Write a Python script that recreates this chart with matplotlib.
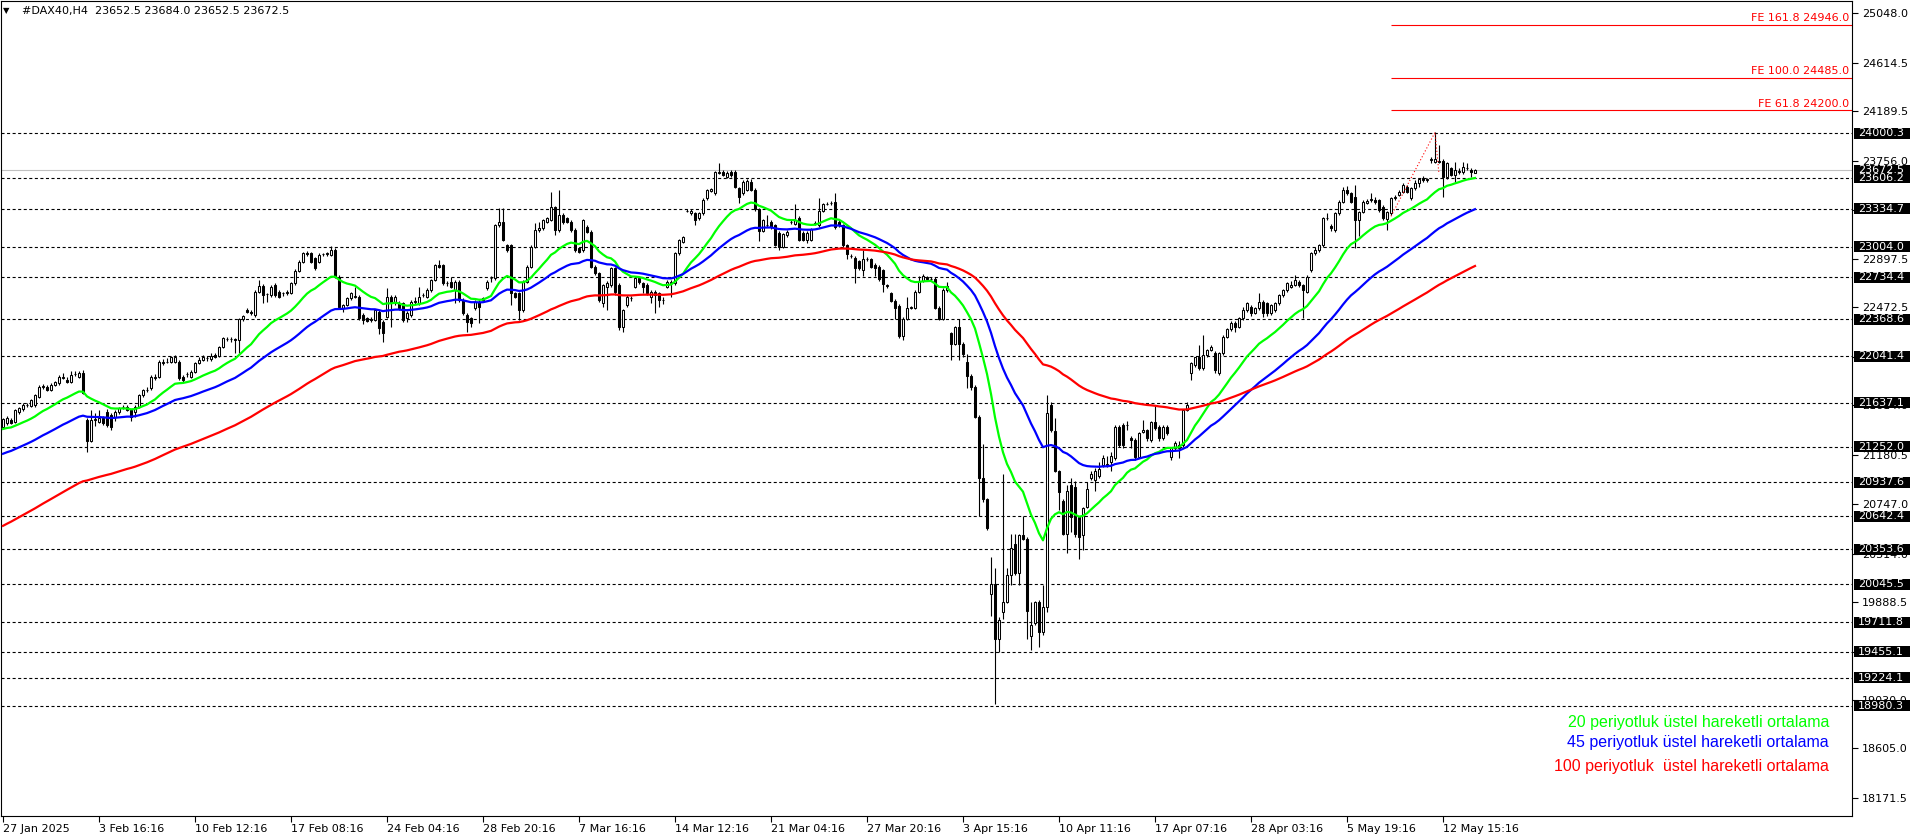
import numpy as np
import matplotlib.pyplot as plt
from matplotlib.patches import Rectangle

plt.rcParams['lines.scale_dashes'] = False

# H4 candles (price units)
opens = [
    21426, 21461, 21484, 21470, 21557, 21578, 21616, 21607, 21616, 21689,
    21777, 21777, 21747, 21791, 21806, 21850, 21835, 21820, 21885, 21864,
    21894, 21484, 21303, 21484, 21470, 21499, 21557, 21528, 21514, 21557,
    21601, 21601, 21572, 21557, 21601, 21704, 21747, 21762, 21850, 21864,
    21981, 21996, 21996, 21996, 21996, 21864, 21885, 21864, 21908, 21987,
    22010, 22025, 22016, 22054, 22046, 22127, 22192, 22195, 22192, 22186,
    22367, 22449, 22434, 22405, 22609, 22659, 22585, 22580, 22668, 22609,
    22595, 22595, 22595, 22683, 22794, 22872, 22945, 22945, 22902, 22872,
    22937, 22940, 22931, 22975, 22741, 22463, 22493, 22551, 22566, 22566,
    22405, 22376, 22367, 22361, 22434,
    22346, 22390, 22565, 22522, 22507, 22507, 22375, 22405, 22522, 22507,
    22580, 22565, 22624, 22711, 22843, 22843, 22682, 22697, 22624, 22697,
    22536, 22405, 22375, 22463, 22522, 22536, 22638, 22726, 22726, 23194,
    23223, 23018, 23018, 22595, 22595, 22448, 22697, 22828, 23004, 23150,
    23164, 23223, 23237, 23348, 23150, 23281, 23252, 23223, 23150, 22989,
    22975, 23179, 23135, 22828, 22770, 22507, 22653, 22668, 22814, 22668,
    22302, 22492, 22551, 22653, 22726, 22682, 22668, 22565, 22609, 22595,
    22536, 22653, 22682, 22682, 22945, 23047, 23316, 23296, 23296, 23252,
    23296, 23427, 23494, 23471, 23652, 23661, 23617, 23661, 23661, 23515,
    23471, 23500,
    23575, 23505, 23333, 23144, 23191, 23223, 23191, 23128, 23003, 23103,
    23223, 23207, 23254, 23128, 23065, 23065, 23207, 23191, 23317, 23380,
    23386, 23395, 23223, 23191, 23018, 22924, 22908, 22877, 22798, 22893,
    22893, 22846, 22830, 22798, 22663, 22594, 22531, 22484, 22217, 22374,
    22469, 22469, 22610, 22704, 22736, 22720, 22720, 22469, 22374, 22626,
    22249, 22154, 22296, 22154, 21997, 21872, 21777, 21510, 20976, 20788,
    19955, 20049, 19562, 19798, 19892, 20128, 20395, 20143, 20473, 20442,
    19594, 19704, 19892, 19625, 19845, 21620, 21385, 21039, 20772, 20489,
    20913, 20897, 20630, 20473, 20725, 20976, 20960, 20992, 21086, 21086,
    21118,
    21148, 21426, 21440, 21440, 21324, 21309, 21163, 21382, 21397, 21309,
    21470, 21426, 21324, 21426, 21163, 21236, 21236, 21265, 21572, 21893,
    21966, 22034, 21937, 22054, 22098, 22069, 21893, 22069, 22215, 22279,
    22337, 22302, 22375, 22448, 22478, 22425, 22463, 22522, 22506, 22419,
    22448, 22506, 22580, 22624, 22653, 22668, 22697, 22668, 22609, 22799,
    22945, 22974, 23018, 23252, 23185, 23150, 23296, 23398, 23500, 23471,
    23442, 23238, 23310, 23389, 23419, 23413, 23413, 23354, 23243, 23296,
    23427, 23457, 23486, 23530, 23427, 23515, 23559, 23603, 23588, 23763,
    23749, 23758, 23758, 23617, 23690, 23632, 23661, 23661, 23696, 23676,
    23652.5,
]
highs = [
    21505, 21520, 21500, 21585, 21600, 21630, 21635, 21672, 21715, 21795,
    21800, 21795, 21805, 21830, 21880, 21900, 21860, 21910, 21910, 21915,
    21920, 21500, 21570, 21549, 21572, 21520, 21580, 21545, 21570, 21600,
    21620, 21615, 21585, 21615, 21715, 21760, 21770, 21880, 21885, 22010,
    22020, 22030, 22045, 22050, 22010, 21880, 21905, 21920, 21990, 22040,
    22050, 22045, 22069, 22070, 22135, 22210, 22215, 22215, 22205, 22376,
    22405, 22465, 22450, 22620, 22712, 22675, 22600, 22665, 22683, 22620,
    22610, 22625, 22695, 22805, 22885, 22960, 22965, 22960, 22915, 22945,
    22950, 22955, 23010, 22990, 22755, 22500, 22560, 22605, 22653, 22580,
    22420, 22390, 22385, 22460, 22445,
    22360, 22638, 22580, 22580, 22525, 22520, 22440, 22535, 22565, 22653,
    22600, 22640, 22720, 22855, 22887, 22855, 22700, 22741, 22710, 22710,
    22550, 22420, 22390, 22540, 22535, 22565, 22710, 22745, 23200, 23340,
    23340, 23030, 23030, 22610, 22610, 22710, 22840, 23015, 23210, 23223,
    23250, 23265, 23486, 23360, 23500, 23300, 23265, 23237, 23165, 23000,
    23250, 23194, 23150, 22843, 22785, 22680, 22700, 22830, 22828, 22682,
    22460, 22580, 22570, 22741, 22741, 22697, 22682, 22620, 22624, 22610,
    22565, 22710, 22710, 22960, 23070, 23100, 23330, 23330, 23310, 23310,
    23427, 23510, 23520, 23670, 23740, 23680, 23665, 23675, 23675, 23530,
    23590, 23600,
    23600, 23520, 23345, 23250, 23285, 23240, 23205, 23140, 23125, 23150,
    23240, 23380, 23270, 23140, 23140, 23170, 23230, 23430, 23390, 23395,
    23400, 23470, 23235, 23205, 23030, 22940, 22920, 22890, 22971, 22910,
    22905, 22860, 22845, 22810, 22680, 22610, 22545, 22500, 22385, 22563,
    22485, 22620, 22751, 22765, 22750, 22735, 22735, 22480, 22640, 22690,
    22260, 22311, 22374, 22165, 22060, 21885, 21790, 21525, 21275, 20800,
    20285, 20191, 19760, 21007, 20191, 20489, 20489, 20489, 20646, 20460,
    19892, 19900, 19905, 20034, 21700, 21640, 21500, 21050, 20790, 20913,
    20976, 20950, 20645, 20720, 20945, 21039, 21060, 21118, 21180, 21165,
    21200,
    21440, 21440, 21460, 21480, 21340, 21325, 21380, 21484, 21410, 21480,
    21616, 21440, 21440, 21440, 21250, 21300, 21300, 21580, 21645, 21990,
    22040, 22142, 22229, 22110, 22140, 22085, 22080, 22230, 22290, 22350,
    22350, 22390, 22478, 22520, 22492, 22475, 22595, 22535, 22520, 22500,
    22520, 22590, 22630, 22690, 22700, 22755, 22710, 22680, 22755, 22960,
    23000, 23030, 23265, 23296, 23200, 23305, 23410, 23530, 23535, 23485,
    23544, 23320, 23410, 23420, 23477, 23440, 23425, 23370, 23320, 23440,
    23460, 23500, 23560, 23545, 23530, 23590, 23610, 23620, 23610, 23787,
    24006, 23895, 23770, 23745, 23705, 23749, 23690, 23749, 23734, 23690,
    23684,
]
lows = [
    21410, 21445, 21450, 21455, 21540, 21565, 21600, 21595, 21600, 21680,
    21760, 21735, 21735, 21780, 21795, 21840, 21810, 21810, 21870, 21850,
    21710, 21207, 21290, 21430, 21455, 21440, 21420, 21400, 21480, 21540,
    21585, 21560, 21480, 21515, 21590, 21690, 21730, 21750, 21835, 21850,
    21965, 21980, 21980, 21985, 21835, 21820, 21860, 21850, 21895, 21975,
    22000, 22005, 22005, 22030, 22035, 22115, 22175, 22170, 22069, 22069,
    22350, 22420, 22405, 22390, 22595, 22507, 22520, 22565, 22565, 22555,
    22575, 22580, 22585, 22670, 22780, 22860, 22925, 22860, 22800, 22860,
    22920, 22925, 22920, 22730, 22470, 22434, 22480, 22540, 22550, 22365,
    22326, 22340, 22345, 22350, 22240,
    22171, 22375, 22302, 22490, 22450, 22346, 22340, 22390, 22505, 22495,
    22560, 22550, 22610, 22700, 22820, 22670, 22660, 22640, 22507, 22520,
    22405, 22259, 22302, 22450, 22332, 22520, 22625, 22690, 22711, 23180,
    23050, 22960, 22492, 22550, 22361, 22435, 22685, 22815, 22990, 23135,
    23150, 23210, 23225, 23106, 23135, 23200, 23210, 23135, 22960, 22945,
    22960, 23120, 22815, 22755, 22522, 22478, 22448, 22653, 22580, 22273,
    22259, 22478, 22530, 22640, 22680, 22600, 22580, 22507, 22420, 22478,
    22500, 22640, 22565, 22668, 22930, 23035, 23305, 23285, 23194, 23237,
    23285, 23413, 23480, 23460, 23640, 23620, 23605, 23615, 23515, 23384,
    23460, 23490,
    23490, 23320, 23050, 23130, 23175, 23160, 23010, 22971, 22990, 23090,
    23205, 23195, 23050, 23050, 23040, 23050, 23190, 23180, 23305, 23365,
    23370, 23160, 23180, 23003, 22893, 22905, 22688, 22800, 22751, 22875,
    22815, 22751, 22705, 22610, 22645, 22515, 22374, 22201, 22190, 22360,
    22455, 22455, 22595, 22690, 22705, 22700, 22455, 22360, 22360, 22610,
    22013, 22140, 22013, 22040, 21762, 21746, 21500, 20646, 20770, 20520,
    19766, 18997, 19452, 19740, 19880, 20034, 20130, 20034, 20430, 19562,
    19468, 19690, 19499, 19600, 19800, 21380, 21030, 20700, 20480, 20316,
    20500, 20460, 20269, 20348, 20710, 20960, 20866, 20976, 21070, 21070,
    21040,
    21134, 21250, 21240, 21400, 21236, 21134, 21150, 21370, 21300, 21295,
    21400, 21300, 21310, 21350, 21134, 21220, 21150, 21250, 21560, 21835,
    21950, 21920, 21925, 22040, 22085, 21893, 21880, 22055, 22200, 22265,
    22260, 22290, 22360, 22435, 22400, 22410, 22450, 22390, 22400, 22405,
    22435, 22495, 22565, 22610, 22640, 22655, 22650, 22375, 22595, 22785,
    22930, 22960, 23005, 23235, 23140, 23135, 23285, 23385, 23460, 23390,
    22989, 23100, 23295, 23375, 23395, 23380, 23310, 23238, 23150, 23285,
    23415, 23445, 23475, 23470, 23415, 23500, 23530, 23575, 23570, 23740,
    23735, 23740, 23442, 23600, 23620, 23573, 23640, 23645, 23680, 23617,
    23652.5,
]
closes = [
    21490, 21499, 21461, 21572, 21587, 21616, 21618, 21660, 21704, 21777,
    21780, 21747, 21791, 21820, 21864, 21864, 21820, 21879, 21888, 21894,
    21718, 21303, 21484, 21490, 21499, 21455, 21441, 21426, 21557, 21587,
    21598, 21572, 21514, 21601, 21704, 21747, 21750, 21864, 21864, 21996,
    21996, 21990, 22034, 22040, 21850, 21835, 21888, 21908, 21981, 22010,
    22040, 22028, 22046, 22040, 22127, 22200, 22195, 22192, 22186, 22367,
    22396, 22434, 22420, 22609, 22659, 22580, 22589, 22653, 22580, 22566,
    22598, 22609, 22683, 22794, 22872, 22945, 22942, 22872, 22814, 22931,
    22940, 22945, 22975, 22741, 22478, 22493, 22551, 22595, 22570, 22376,
    22361, 22355, 22364, 22449, 22288,
    22244, 22565, 22507, 22565, 22463, 22361, 22419, 22522, 22525, 22565,
    22582, 22624, 22711, 22843, 22830, 22682, 22685, 22653, 22697, 22536,
    22419, 22346, 22332, 22522, 22478, 22551, 22697, 22730, 23194, 23223,
    23062, 22975, 22595, 22565, 22448, 22697, 22828, 23004, 23150, 23164,
    23237, 23252, 23348, 23150, 23281, 23223, 23223, 23150, 22975, 22960,
    23237, 23135, 22828, 22770, 22536, 22668, 22682, 22814, 22609, 22302,
    22448, 22565, 22555, 22726, 22697, 22653, 22595, 22609, 22580, 22536,
    22540, 22697, 22697, 22945, 23062, 23085, 23318, 23316, 23237, 23296,
    23413, 23500, 23506, 23661, 23655, 23632, 23652, 23632, 23530, 23442,
    23573, 23582,
    23505, 23333, 23144, 23238, 23195, 23175, 23018, 23003, 23113, 23135,
    23220, 23238, 23065, 23065, 23128, 23160, 23210, 23317, 23380, 23382,
    23384, 23175, 23191, 23018, 22940, 22926, 22814, 22814, 22893, 22895,
    22830, 22814, 22720, 22673, 22665, 22531, 22469, 22217, 22374, 22469,
    22472, 22610, 22704, 22751, 22720, 22718, 22469, 22374, 22626, 22657,
    22154, 22296, 22154, 22060, 21872, 21777, 21510, 20976, 20788, 20536,
    20049, 19562, 19735, 19892, 20128, 20363, 20143, 20473, 20442, 19813,
    19688, 19892, 19625, 19845, 21542, 21400, 21039, 20850, 20489, 20866,
    20630, 20489, 20458, 20709, 20882, 21007, 21039, 21055, 21149, 21102,
    21165,
    21426, 21265, 21265, 21445, 21309, 21163, 21367, 21397, 21324, 21470,
    21411, 21324, 21426, 21367, 21236, 21280, 21265, 21572, 21616, 21981,
    22034, 21937, 22054, 22098, 22127, 21923, 22069, 22215, 22279, 22337,
    22302, 22375, 22448, 22506, 22425, 22463, 22522, 22419, 22419, 22492,
    22506, 22580, 22624, 22683, 22668, 22711, 22668, 22624, 22741, 22945,
    22974, 23018, 23252, 23255, 23164, 23296, 23398, 23500, 23477, 23398,
    23238, 23310, 23398, 23404, 23413, 23398, 23325, 23252, 23310, 23427,
    23442, 23486, 23544, 23486, 23515, 23559, 23594, 23588, 23594, 23769,
    23769, 23749, 23611, 23734, 23632, 23676, 23670, 23699, 23690, 23661,
    23672.5,
]

# horizontal support / resistance levels (dashed) with boxed labels
levels = [24000.3, 23606.2, 23334.7, 23004.0, 22734.4, 22368.6, 22041.4,
          21637.1, 21252.0, 20937.6, 20642.4, 20353.6, 20045.5, 19711.8,
          19455.1, 19224.1, 18980.3]
bid = 23672.5

# Fibonacci expansion
fe_names = ["FE 161.8", "FE 100.0", "FE 61.8"]
fe_levels = [24946.0, 24485.0, 24200.0]
fe_start = 347
fe_path_x = [347, 358, 359]
fe_path_y = [23270, 24006, 23640]

# price axis ticks
price_ticks = [25048.0, 24614.5, 24189.5, 23756.0, 23322.5, 22897.5, 22472.5,
               22039.0, 21614.0, 21180.5, 20747.0, 20314.0, 19888.5, 19455.0,
               19030.0, 18605.0, 18171.5]

time_labels = ["27 Jan 2025", "3 Feb 16:16", "10 Feb 12:16", "17 Feb 08:16",
               "24 Feb 04:16", "28 Feb 20:16", "7 Mar 16:16", "14 Mar 12:16",
               "21 Mar 04:16", "27 Mar 20:16", "3 Apr 15:16", "10 Apr 11:16",
               "17 Apr 07:16", "28 Apr 03:16", "5 May 19:16", "12 May 15:16"]
time_label_bars = [0, 24, 48, 72, 96, 120, 144, 168, 192, 216, 240, 264,
                   288, 312, 336, 360]

# EMAs: period, value at the left edge, colour, caption
ema_periods = [20, 45, 100]
ema_start = [21397, 21175, 20538]
ema_colors = ['#00ff00', '#0000ff', '#ff0000']
ema_captions = ["20 periyotluk üstel hareketli ortalama",
                "45 periyotluk üstel hareketli ortalama",
                "100 periyotluk  üstel hareketli ortalama"]


def ema(values, period, start):
    k = 2.0 / (period + 1)
    out = []
    prev = start
    for v in values:
        prev = prev + k * (v - prev)
        out.append(prev)
    return out


W, H = 1916, 840
fig = plt.figure(figsize=(W / 100, H / 100), dpi=100, facecolor='white')
ax = fig.add_axes([1 / W, 24 / H, 1851 / W, 815 / H])
ax.set_xlim(-0.5, 462.25)
ax.set_ylim(18013.3, 25157.4)
for s in ax.spines.values():
    s.set_linewidth(0.8)
    s.set_color('black')

o = np.array(opens, dtype=float)
h = np.array(highs, dtype=float)
l = np.array(lows, dtype=float)
c = np.array(closes, dtype=float)
x = np.arange(len(c))

# level lines
for lv in levels:
    ax.axhline(lv, color='black', lw=0.8, dashes=(2.2, 1.8), zorder=1)
ax.axhline(bid, color='#c0c0c0', lw=0.8, zorder=1)

# candles
ax.vlines(x, l, h, color='black', lw=0.8, zorder=2)
up = c >= o
ax.bar(x[up], (c - o)[up], bottom=o[up], width=0.55, facecolor='white',
       edgecolor='black', lw=0.75, zorder=3)
ax.bar(x[~up], (o - c)[~up], bottom=c[~up], width=0.55, facecolor='black',
       edgecolor='black', lw=0.75, zorder=3)

# moving averages
for p, s0, col in zip(ema_periods, ema_start, ema_colors):
    ax.plot(x, ema(c, p, s0), color=col, lw=1.6, zorder=4)

# Fibonacci expansion lines
xr = ax.get_xlim()[1]
for name, lv in zip(fe_names, fe_levels):
    ax.hlines(lv, fe_start, xr, color='#ff0000', lw=0.8, zorder=2)
    ax.text(0.9984, lv + 15, f"{name} {lv:.1f}", color='#ff0000', fontsize=8,
            ha='right', va='bottom', transform=ax.get_yaxis_transform())
ax.plot(fe_path_x, fe_path_y, color='#ff0000', lw=0.8, dashes=(0.8, 1.6),
        zorder=4)

# axes ticks
ax.yaxis.tick_right()
ax.set_yticks(price_ticks)
ax.set_yticklabels([f"{v:.1f}" for v in price_ticks])
ax.tick_params(axis='y', length=4, width=0.8, pad=3, labelsize=8,
               colors='black')
ax.set_xticks(time_label_bars)
ax.set_xticklabels(time_labels, ha='left')
ax.tick_params(axis='x', length=4, width=0.8, pad=2, labelsize=8)

# boxed price labels on the right
ytr = ax.get_yaxis_transform()
box_h = 11 / 0.11408
for lv in [bid] + levels:
    ax.add_patch(Rectangle((1.0011, lv - box_h / 2), 0.0303, box_h,
                           transform=ytr, facecolor='black', edgecolor='none',
                           clip_on=False, zorder=6))
    ax.text(1.0032, lv, f"{lv:.1f}", color='white', fontsize=8, ha='left',
            va='center', transform=ytr, clip_on=False, zorder=7)

# title
fig.text(3 / W, 1 - 11 / H, "▼", fontsize=6, va='center')
fig.text(22 / W, 1 - 11 / H, "#DAX40,H4  23652.5 23684.0 23652.5 23672.5",
         fontsize=8, va='center')

# EMA captions
for cap, col, yp in zip(ema_captions, ema_colors, [723, 743, 767]):
    fig.text(1829 / W, 1 - yp / H, cap, color=col, fontsize=11.5,
             family='Liberation Sans', ha='right', va='center')

fig.savefig('out.png', dpi=100, facecolor='white')
